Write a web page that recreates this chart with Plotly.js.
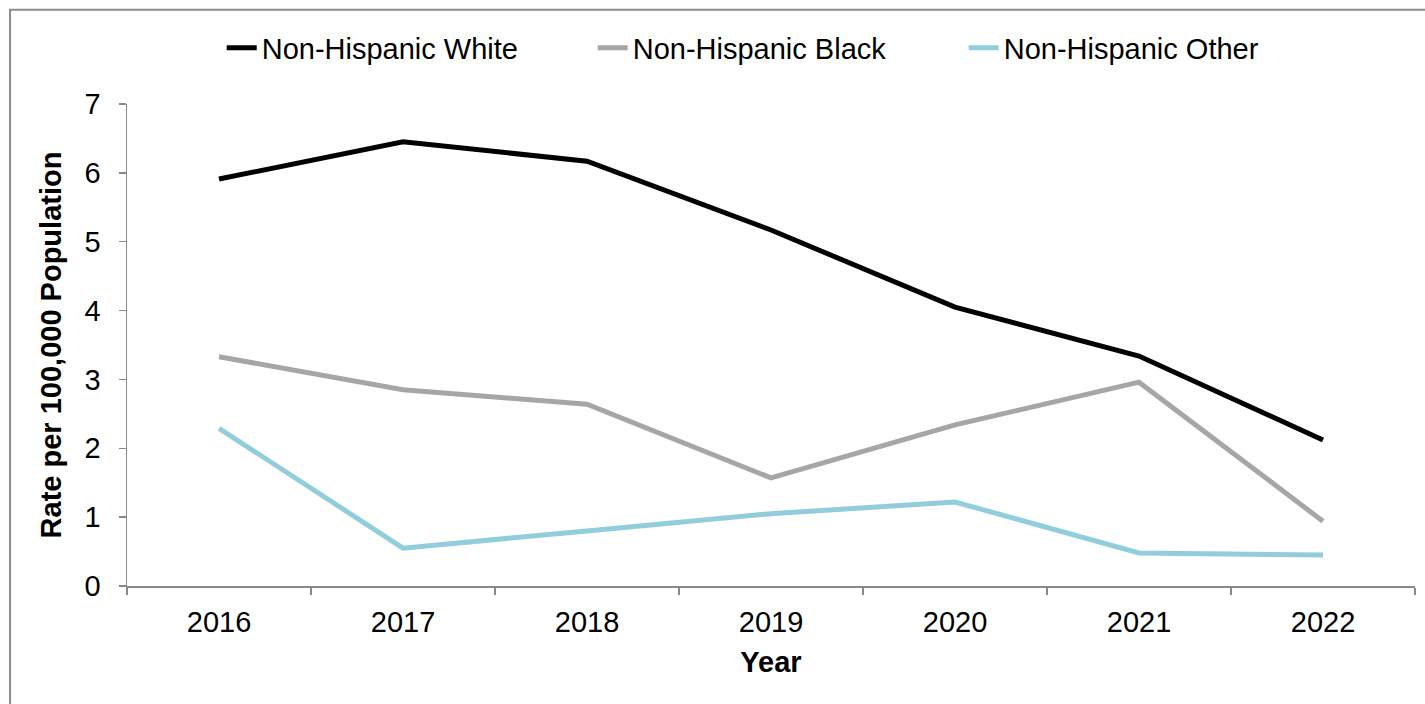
<!DOCTYPE html>
<html>
<head>
<meta charset="utf-8">
<script src="https://cdn.plot.ly/plotly-3.0.1.min.js"></script>
<style>html,body{margin:0;padding:0;background:#fff;}#chart{width:1425px;height:704px;}</style>
</head>
<body>
<div id="chart"></div>
<script>
const years = ["2016", "2017", "2018", "2019", "2020", "2021", "2022"];
const seriesNames = ["Non-Hispanic White", "Non-Hispanic Black", "Non-Hispanic Other"];
const white = [5.91, 6.45, 6.17, 5.17, 4.05, 3.34, 2.12];
const black = [3.33, 2.85, 2.64, 1.57, 2.34, 2.96, 0.94];
const other = [2.29, 0.55, 0.80, 1.05, 1.22, 0.48, 0.45];
const colors = ["#000000", "#A6A6A6", "#92CDDC"];
const values = [white, black, other];

const traces = values.map((v, i) => ({
  type: "scatter", mode: "lines", x: years, y: v, name: seriesNames[i],
  line: {color: colors[i], width: 5}
}));

const font = {family: "Liberation Sans, Arial, sans-serif", color: "#000", size: 29};
const layout = {
  width: 1425, height: 704,
  margin: {l: 127, r: 10, t: 104, b: 118, autoexpand: false},
  paper_bgcolor: "#fff", plot_bgcolor: "#fff",
  font: font,
  showlegend: true,
  legend: {orientation: "h", x: 0.1556, xanchor: "left", xref: "container",
           y: 0.932, yanchor: "middle", yref: "container",
           bgcolor: "rgba(0,0,0,0)",
           font: {family: font.family, size: 29, color: "#000"}, entrywidth: 326, entrywidthmode: "pixels"},
  xaxis: {
    type: "category", range: [-0.5, 6.5], tickson: "boundaries",
    ticks: "outside", ticklen: 7, tickcolor: "#888", tickwidth: 1.5,
    showline: true, linecolor: "#888", linewidth: 1.5, showgrid: false, zeroline: false,
    tickfont: {size: 29}, ticklabelstandoff: 10,
    title: {text: "<b>Year</b>", font: {size: 29}, standoff: 14}
  },
  yaxis: {
    range: [0, 7], dtick: 1, ticks: "outside", ticklen: 7, tickcolor: "#888", tickwidth: 1.5,
    showline: true, linecolor: "#888", linewidth: 1.5, showgrid: false, zeroline: false,
    tickfont: {size: 29}, ticklabelstandoff: 12,
    title: {text: "<b>Rate per 100,000 Population</b>", font: {size: 29}, standoff: 14}
  },
  shapes: [{
    type: "rect", xref: "paper", yref: "paper",
    x0: -0.0908, x1: 1.2, y0: -0.5, y1: 1.1957,
    line: {color: "#8c8c8c", width: 2}, fillcolor: "rgba(0,0,0,0)", layer: "below"
  }]
};
Plotly.newPlot("chart", traces, layout, {displayModeBar: false, staticPlot: true});
</script>
</body>
</html>
